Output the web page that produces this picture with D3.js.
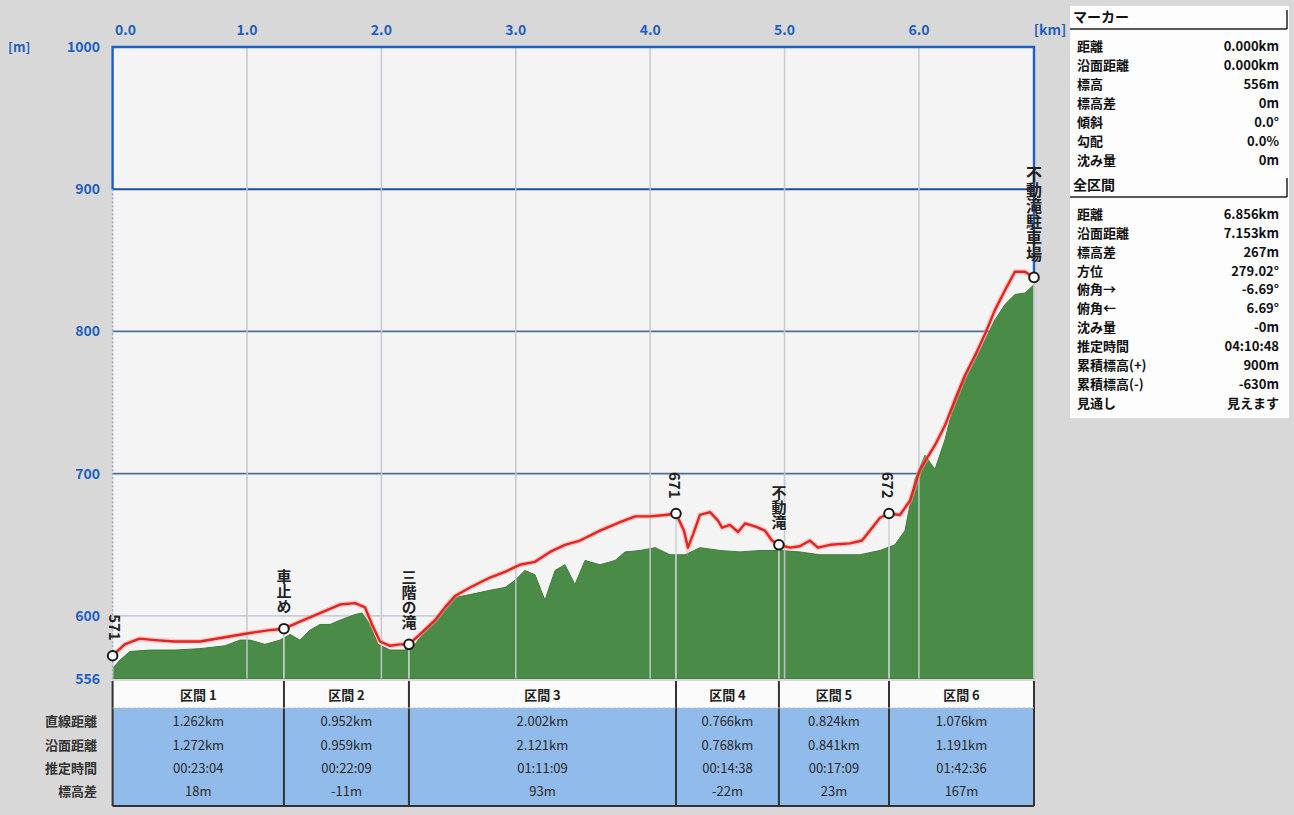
<!DOCTYPE html>
<html><head><meta charset="utf-8">
<script src="https://cdn.jsdelivr.net/npm/d3@7/dist/d3.min.js"></script>
<style>
html,body{margin:0;padding:0;background:#d7d7d7;}
svg{display:block;font-family:"Noto Sans CJK JP","Noto Sans",sans-serif;}
</style></head>
<body>
<svg id="c" width="1294" height="815"></svg>
<script>
// ---- data ----
const xTicks = [0, 1, 2, 3, 4, 5, 6];
const xTickLabels = ["0.0", "1.0", "2.0", "3.0", "4.0", "5.0", "6.0"];
const yTicks = [556, 600, 700, 800, 900, 1000];
const yTickLabels = ["556", "600", "700", "800", "900", "1000"];

// route elevation profile (red line): distance km, elevation m
const routeKm = [0.00,0.09,0.20,0.315,0.46,0.65,0.836,1.022,1.171,1.275,1.394,1.543,1.692,1.804,1.878,1.93,1.99,2.064,2.138,2.205,2.287,2.399,2.473,2.548,2.659,2.808,2.92,3.031,3.143,3.255,3.366,3.478,3.627,3.776,3.888,4.0,4.11,4.192,4.251,4.281,4.318,4.37,4.445,4.505,4.535,4.594,4.654,4.706,4.78,4.854,4.906,4.958,5.04,5.114,5.189,5.249,5.338,5.487,5.576,5.636,5.71,5.777,5.859,5.933,6.008,6.119,6.194,6.268,6.342,6.417,6.491,6.565,6.64,6.714,6.789,6.856];
const routeElev = [572,580,584,583,582,582,585,588,590,591,596,602,608,609,606,594,582,579,580,580,587,597,606,614,620,627,631,636,638,645,650,653,660,666,670,670,671,672,660,648,657,671,673,667,662,664,659,665,663,660,653,650,648,649,653,648,650,651,653,660,669,672,671,681,703,720,734,752,769,783,798,815,829,842,842,838];

// terrain (green area)
const terrainKm = [0.0,0.055,0.129,0.278,0.464,0.65,0.836,0.948,1.022,1.134,1.246,1.321,1.394,1.469,1.543,1.618,1.692,1.804,1.856,1.915,1.975,2.064,2.176,2.25,2.362,2.473,2.548,2.659,2.808,2.92,2.994,3.068,3.143,3.217,3.292,3.366,3.44,3.515,3.627,3.739,3.813,3.925,4.037,4.148,4.26,4.371,4.52,4.668,4.817,4.966,5.114,5.263,5.412,5.561,5.71,5.821,5.896,5.97,6.045,6.119,6.194,6.268,6.342,6.417,6.491,6.565,6.64,6.714,6.789,6.856];
const terrainElev = [563,569,575,576,576,577,579,583,583,580,583,587,583,590,594,594,597,601,602,594,580,576,576,580,594,604,613,615,618,620,625,632,629,611,632,636,622,639,636,639,645,646,648,643,643,648,646,645,646,646,645,643,643,643,646,650,660,696,713,703,724,752,766,780,794,808,819,826,827,833];

// waypoints
const markerKm = [0, 1.275, 2.205, 4.192, 4.958, 5.777, 6.856];
const markerElev = [572, 591, 580, 672, 650, 672, 838];
const markerLabels = ["571", "車止め", "三階の滝", "671", "不動滝", "672", "不動滝駐車場"];

// section table
const sectionNames = ["区間 1", "区間 2", "区間 3", "区間 4", "区間 5", "区間 6"];
const rowLabels = ["直線距離", "沿面距離", "推定時間", "標高差"];
const straightDist = ["1.262km", "0.952km", "2.002km", "0.766km", "0.824km", "1.076km"];
const surfaceDist = ["1.272km", "0.959km", "2.121km", "0.768km", "0.841km", "1.191km"];
const estTime = ["00:23:04", "00:22:09", "01:11:09", "00:14:38", "00:17:09", "01:42:36"];
const elevDiff = ["18m", "-11m", "93m", "-22m", "23m", "167m"];

// side panel
const markerPanelLabels = ["距離", "沿面距離", "標高", "標高差", "傾斜", "勾配", "沈み量"];
const markerPanelValues = ["0.000km", "0.000km", "556m", "0m", "0.0°", "0.0%", "0m"];
const totalPanelLabels = ["距離", "沿面距離", "標高差", "方位", "俯角→", "俯角←", "沈み量", "推定時間", "累積標高(+)", "累積標高(-)", "見通し"];
const totalPanelValues = ["6.856km", "7.153km", "267m", "279.02°", "-6.69°", "6.69°", "-0m", "04:10:48", "900m", "-630m", "見えます"];

// ---- drawing ----
const svg = d3.select("#c");
const x = d3.scaleLinear().domain([0, 6.856]).range([112.6, 1034]);
const y = d3.scaleLinear().domain([556, 1000]).range([678.5, 47]);
const blue = "#1f5fbf";

// backgrounds
svg.append("rect").attr("x",0).attr("y",0).attr("width",1294).attr("height",815).attr("fill","#d8d8d8");
svg.append("rect").attr("x",x(0)).attr("y",y(1000)).attr("width",x(6.856)-x(0)).attr("height",y(556)-y(1000)).attr("fill","#f4f4f5");

// horizontal grid
const gridStyle = {600:["#b8c0cc",1.2],700:["#4f6f98",1.8],800:["#4f6f98",1.8],900:["#1d4f9e",2.2]};
[600,700,800,900].forEach(v=>{
  svg.append("line").attr("x1",x(0)).attr("x2",x(6.856)).attr("y1",y(v)).attr("y2",y(v))
    .attr("stroke",gridStyle[v][0]).attr("stroke-width",gridStyle[v][1]);
});

// terrain
const pts = terrainKm.map((k,i)=>[k,terrainElev[i]]);
svg.append("path").datum(pts)
  .attr("d", d3.area().x(d=>x(d[0])).y0(y(556)).y1(d=>y(d[1])))
  .attr("fill","#4b8b48").attr("stroke","#3f7c3d").attr("stroke-width",1);

// vertical grid
xTicks.slice(1).forEach(t=>{
  svg.append("line").attr("x1",x(t)).attr("x2",x(t)).attr("y1",y(1000)).attr("y2",y(556))
    .attr("stroke","#c4c8d0").attr("stroke-width",1.6).attr("opacity",0.9);
});

// marker drop lines
markerKm.forEach((k,i)=>{
  svg.append("line").attr("x1",x(k)).attr("x2",x(k)).attr("y1",y(markerElev[i])).attr("y2",y(556))
    .attr("stroke","#d0d4d8").attr("stroke-width",1.6);
});

// frame
svg.append("path")
  .attr("d",`M${x(0)},${y(900)}V${y(1000)}H${x(6.856)}V${y(markerElev[6])}`)
  .attr("fill","none").attr("stroke",blue).attr("stroke-width",2.4);
svg.append("line").attr("x1",x(0)).attr("x2",x(0)).attr("y1",y(900)).attr("y2",y(556))
  .attr("stroke","#9aa8c0").attr("stroke-width",1.5).attr("stroke-dasharray","2,2");

// route line
const rpts = routeKm.map((k,i)=>[k,routeElev[i]]);
svg.append("path").datum(rpts)
  .attr("d", d3.line().x(d=>x(d[0])).y(d=>y(d[1])))
  .attr("fill","none").attr("stroke","#f2a0a0").attr("stroke-width",5).attr("opacity",0.5);
svg.append("path").datum(rpts)
  .attr("d", d3.line().x(d=>x(d[0])).y(d=>y(d[1])))
  .attr("fill","none").attr("stroke","#e8231b").attr("stroke-width",2.4).attr("stroke-linejoin","round");

// markers
markerKm.forEach((k,i)=>{
  svg.append("circle").attr("cx",x(k)).attr("cy",y(markerElev[i])).attr("r",4.8)
    .attr("fill","#ffffff").attr("stroke","#1a1a1a").attr("stroke-width",2);
  svg.append("text").attr("x",x(k) + (i===0?3:0)).attr("y",y(markerElev[i]) - 15)
    .attr("writing-mode","vertical-rl").attr("text-anchor","end")
    .attr("font-size", i===6 ? 16 : 15).attr("font-weight","bold").attr("fill","#222")
    .text(markerLabels[i]);
});

// axes labels
xTicks.forEach((t,i)=>{
  svg.append("text").attr("x",x(t) + (i===0?13:0)).attr("y",35).attr("text-anchor","middle")
    .attr("font-size",14).attr("font-weight","bold").attr("fill",blue).text(xTickLabels[i]);
});
svg.append("text").attr("x",1050).attr("y",35).attr("text-anchor","middle")
  .attr("font-size",14).attr("font-weight","bold").attr("fill",blue).text("[km]");
yTicks.forEach((t,i)=>{
  svg.append("text").attr("x",100).attr("y",y(t)+5).attr("text-anchor","end")
    .attr("font-size",14).attr("font-weight","bold").attr("fill",blue).text(yTickLabels[i]);
});
svg.append("text").attr("x",8).attr("y",52).attr("font-size",13).attr("font-weight","bold").attr("fill",blue).text("[m]");

// ---- section table ----
const tTop = 681, tHead = 708, tBot = 806;
const bounds = markerKm.map(k=>x(k));
svg.append("rect").attr("x",bounds[0]).attr("y",tTop).attr("width",bounds[6]-bounds[0]).attr("height",tHead-tTop).attr("fill","#fbfbfb");
svg.append("rect").attr("x",bounds[0]).attr("y",tHead).attr("width",bounds[6]-bounds[0]).attr("height",tBot-tHead).attr("fill","#90bbea");
const rowY = [721, 745, 768, 791];
const rowsData = [straightDist, surfaceDist, estTime, elevDiff];
sectionNames.forEach((s,i)=>{
  const cx = (bounds[i]+bounds[i+1])/2;
  svg.append("text").attr("x",cx).attr("y",700).attr("text-anchor","middle")
    .attr("font-size",13).attr("font-weight","bold").attr("fill","#222").text(s);
  rowsData.forEach((r,j)=>{
    svg.append("text").attr("x",cx).attr("y",rowY[j]+5).attr("text-anchor","middle")
      .attr("font-size",13).attr("fill","#2a2a2a").text(r[i]);
  });
});
bounds.forEach(b=>{
  svg.append("line").attr("x1",b).attr("x2",b).attr("y1",tTop).attr("y2",tBot)
    .attr("stroke","#333").attr("stroke-width",2);
});
svg.append("line").attr("x1",bounds[0]).attr("x2",bounds[6]).attr("y1",tBot).attr("y2",tBot).attr("stroke","#333").attr("stroke-width",2);
svg.append("line").attr("x1",bounds[0]).attr("x2",bounds[6]).attr("y1",tHead).attr("y2",tHead).attr("stroke","#bbb").attr("stroke-width",1).attr("stroke-dasharray","3,2");
rowLabels.forEach((l,j)=>{
  svg.append("text").attr("x",97).attr("y",rowY[j]+5).attr("text-anchor","end")
    .attr("font-size",13).attr("font-weight","bold").attr("fill","#333").text(l);
});

// ---- side panel ----
const px0 = 1070, px1 = 1289;
svg.append("rect").attr("x",px0).attr("y",6).attr("width",px1-px0).attr("height",412).attr("fill","#fdfdfd");
function header(txt, yy){
  svg.append("text").attr("x",px0+3).attr("y",yy).attr("font-size",14).attr("font-weight","bold").attr("fill","#111").text(txt);
  svg.append("line").attr("x1",px0).attr("x2",px1-2).attr("y1",yy+7).attr("y2",yy+7).attr("stroke","#222").attr("stroke-width",1.5);
  svg.append("line").attr("x1",px1-2).attr("x2",px1-2).attr("y1",yy-12).attr("y2",yy+7).attr("stroke","#222").attr("stroke-width",1.5);
}
header("マーカー", 22);
header("全区間", 190);
const mY = [46, 65, 84, 103, 122, 141, 160];
markerPanelLabels.forEach((l,i)=>{
  svg.append("text").attr("x",1077).attr("y",mY[i]+5).attr("font-size",13).attr("font-weight","bold").attr("fill","#111").text(l);
  svg.append("text").attr("x",1279).attr("y",mY[i]+5).attr("text-anchor","end").attr("font-size",13).attr("font-weight","bold").attr("fill","#111").text(markerPanelValues[i]);
});
const tY = [214, 233, 252, 271, 289, 308, 327, 346, 365, 384, 403];
totalPanelLabels.forEach((l,i)=>{
  svg.append("text").attr("x",1077).attr("y",tY[i]+5).attr("font-size",13).attr("font-weight","bold").attr("fill","#111").text(l);
  svg.append("text").attr("x",1279).attr("y",tY[i]+5).attr("text-anchor","end").attr("font-size",13).attr("font-weight","bold").attr("fill","#111").text(totalPanelValues[i]);
});
</script>
</body></html>
